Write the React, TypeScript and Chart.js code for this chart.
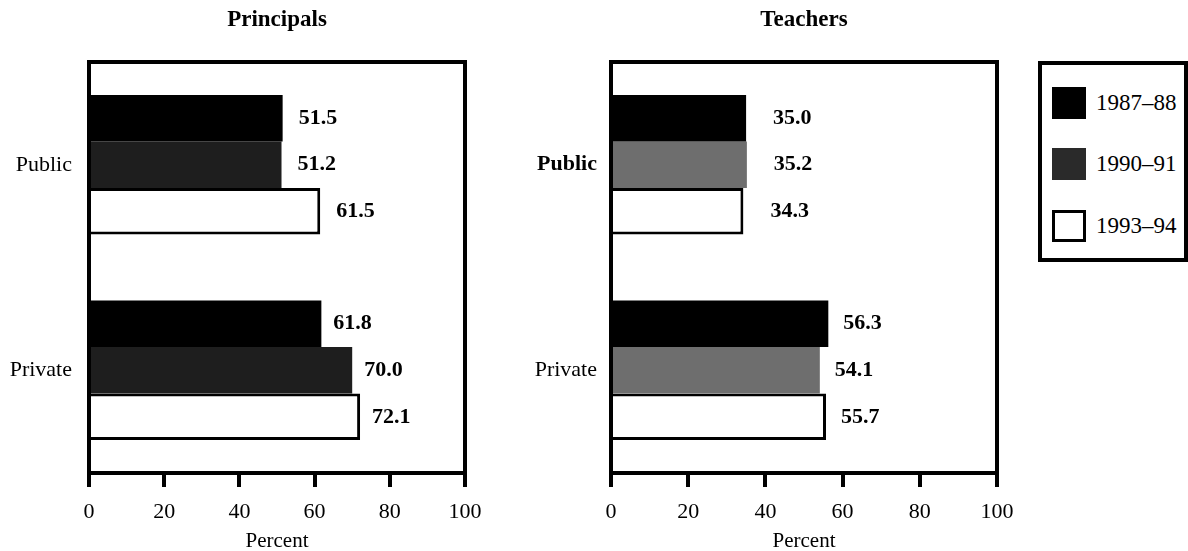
import React, { useEffect, useRef } from "react";
import { Chart, registerables } from "chart.js";

Chart.register(...registerables);

const categories = ["Public", "Private"];
const seriesNames = ["1987–88", "1990–91", "1993–94"];
const principals1987 = [51.5, 61.8];
const principals1990 = [51.2, 70.0];
const principals1993 = [61.5, 72.1];
const teachers1987 = [35.0, 56.3];
const teachers1990 = [35.2, 54.1];
const teachers1993 = [34.3, 55.7];
const xTicks = [0, 20, 40, 60, 80, 100];

const FONT = "'Liberation Serif', 'Times New Roman', serif";
const BLACK = "#000000";
const WHITE = "#ffffff";
const LEGEND_MID = "#2a2a2a";

type PanelProps = {
  title: string;
  d1: number[];
  d2: number[];
  d3: number[];
  left: number;
  width: number;
  yWidth: number;
  rightPad: number;
  midColor: string;
  labelOffsets: number[];
  yPad: number;
  boldFirst: boolean;
};

const framePlugin = {
  id: "frame",
  afterDraw(chart: any) {
    const { ctx, chartArea } = chart;
    const { left, right, top, bottom } = chartArea;
    ctx.save();
    ctx.strokeStyle = BLACK;
    ctx.lineWidth = 4;
    ctx.beginPath();
    ctx.moveTo(left - 2, top);
    ctx.lineTo(right, top);
    ctx.moveTo(right, top - 2);
    ctx.lineTo(right, bottom);
    ctx.moveTo(left, top - 2);
    ctx.lineTo(left, bottom);
    ctx.stroke();
    ctx.restore();
  },
};

const valueLabelPlugin = {
  id: "valueLabels",
  afterDatasetsDraw(chart: any, _args: any, opts: any) {
    const { ctx } = chart;
    const offsets: number[] = opts.offsets || [16, 16];
    ctx.save();
    ctx.fillStyle = BLACK;
    ctx.font = `bold 22px ${FONT}`;
    ctx.textAlign = "left";
    ctx.textBaseline = "middle";
    chart.data.datasets.forEach((ds: any, di: number) => {
      const meta = chart.getDatasetMeta(di);
      meta.data.forEach((bar: any, i: number) => {
        const v = ds.data[i] as number;
        ctx.fillText(v.toFixed(1), bar.x + offsets[i], bar.y);
      });
    });
    ctx.restore();
  },
};

function Panel(p: PanelProps) {
  const ref = useRef<HTMLCanvasElement | null>(null);
  useEffect(() => {
    if (!ref.current) return;
    const common = { categoryPercentage: 0.68, barPercentage: 1 };
    const chart = new Chart(ref.current, {
      type: "bar",
      data: {
        labels: categories,
        datasets: [
          { label: seriesNames[0], data: p.d1, backgroundColor: BLACK, borderWidth: 0, ...common },
          { label: seriesNames[1], data: p.d2, backgroundColor: p.midColor, borderWidth: 0, ...common },
          { label: seriesNames[2], data: p.d3, backgroundColor: WHITE, borderColor: BLACK, borderWidth: 3, ...common },
        ],
      },
      options: {
        indexAxis: "y",
        responsive: false,
        animation: false,
        devicePixelRatio: 1,
        layout: { padding: { left: 0, right: p.rightPad, top: 0, bottom: 0 } },
        plugins: {
          legend: { display: false },
          tooltip: { enabled: false },
          title: {
            display: true,
            text: p.title,
            fullSize: false,
            color: BLACK,
            font: { family: FONT, size: 23, weight: "bold" },
            padding: { top: 6, bottom: 28.4 },
          },
          valueLabels: { offsets: p.labelOffsets },
        } as any,
        scales: {
          x: {
            type: "linear",
            min: 0,
            max: 100,
            afterBuildTicks: (s: any) => {
              s.ticks = xTicks.map((v) => ({ value: v }));
            },
            ticks: { font: { family: FONT, size: 22 }, color: BLACK, padding: 12, maxRotation: 0, autoSkip: false },
            grid: { drawOnChartArea: false, drawTicks: true, tickLength: 14, color: BLACK, lineWidth: 4 },
            border: { display: true, color: BLACK, width: 4 },
            title: {
              display: true,
              text: "Percent",
              color: BLACK,
              font: { family: FONT, size: 21 },
              padding: { top: 0, bottom: -3 },
            },
            afterFit: (s: any) => {
              s.height = 78;
            },
          },
          y: {
            type: "category",
            ticks: {
              color: BLACK,
              padding: p.yPad,
              font: (c: any) => ({
                family: FONT,
                size: 22,
                weight: p.boldFirst && c.index === 0 ? "bold" : "normal",
              }),
            },
            grid: { display: false, drawTicks: false },
            border: { display: true, color: BLACK, width: 4 },
            afterFit: (s: any) => {
              s.width = p.yWidth;
            },
          },
        },
      } as any,
      plugins: [framePlugin, valueLabelPlugin],
    });
    return () => chart.destroy();
  }, []);
  return (
    <canvas
      ref={ref}
      width={p.width}
      height={551}
      style={{ position: "absolute", left: p.left, top: 0, width: p.width, height: 551 }}
    />
  );
}

const legendColors = [BLACK, LEGEND_MID, WHITE];
const legendTops = [87, 148, 210];

export default function App() {
  return (
    <div style={{ position: "absolute", left: 0, top: 0, width: 1188, height: 551, background: WHITE, overflow: "hidden" }}>
      <Panel
        title="Principals"
        d1={principals1987}
        d2={principals1990}
        d3={principals1993}
        left={0}
        width={500}
        yWidth={89}
        rightPad={35}
        midColor="#1e1e1e"
        labelOffsets={[16, 12]}
        yPad={17}
        boldFirst={false}
      />
      <Panel
        title="Teachers"
        d1={teachers1987}
        d2={teachers1990}
        d3={teachers1993}
        left={520}
        width={515}
        yWidth={91}
        rightPad={38}
        midColor="#6e6e6e"
        labelOffsets={[27, 15]}
        yPad={14}
        boldFirst={true}
      />
      <div
        style={{
          position: "absolute",
          left: 1038,
          top: 61,
          width: 150,
          height: 201,
          boxSizing: "border-box",
          border: "4px solid #000",
          background: WHITE,
        }}
      >
        {seriesNames.map((name, i) => (
          <div key={name}>
            <div
              style={{
                position: "absolute",
                left: 1052 - 1042,
                top: legendTops[i] - 65,
                width: 34,
                height: 32,
                boxSizing: "border-box",
                background: legendColors[i],
                border: i === 2 ? "3px solid #000" : "none",
              }}
            />
            <div
              style={{
                position: "absolute",
                left: 1096 - 1042,
                top: legendTops[i] - 65 + 16 - 14,
                height: 28,
                lineHeight: "28px",
                fontFamily: FONT,
                fontSize: 23,
                color: BLACK,
                whiteSpace: "nowrap",
              }}
            >
              {name}
            </div>
          </div>
        ))}
      </div>
    </div>
  );
}
